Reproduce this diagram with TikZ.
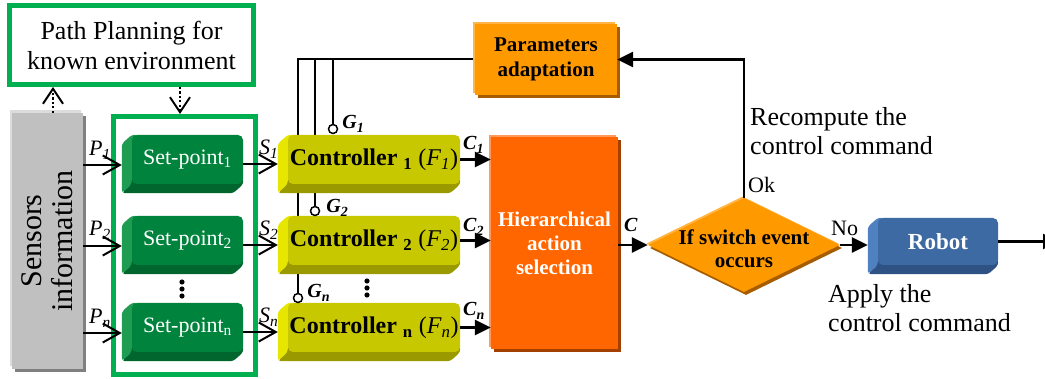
\documentclass[tikz,border=0pt]{standalone}
\usepackage{fontspec}
\setmainfont{Liberation Serif}
\usetikzlibrary{arrows.meta,calc,shapes.geometric}
\pgfdeclarelayer{back}\pgfdeclarelayer{mid}\pgfsetlayers{back,mid,main}
\definecolor{gbord}{HTML}{00B050}
\definecolor{spface}{HTML}{00843D}
\definecolor{spside}{HTML}{1E9C52}
\definecolor{spbot}{HTML}{00662E}
\definecolor{ctface}{HTML}{C8C800}
\definecolor{ctside}{HTML}{E6E600}
\definecolor{ctbot}{HTML}{9A9A00}
\definecolor{rbface}{HTML}{3E6AA3}
\definecolor{rbside}{HTML}{4F81C0}
\definecolor{rbbot}{HTML}{2F5285}
\definecolor{paface}{HTML}{FF9900}
\definecolor{palight}{HTML}{FFB547}
\definecolor{padark}{HTML}{A65C00}
\definecolor{hiface}{HTML}{FF6600}
\definecolor{hilight}{HTML}{FF9A5A}
\definecolor{hidark}{HTML}{A33F00}
\definecolor{sgray}{HTML}{C0C0C0}
\definecolor{sdark}{HTML}{808080}
\definecolor{slight}{HTML}{DCDCDC}
\newcommand\bevel[3]{%
\begin{pgfonlayer}{mid}
\fill[#2,rounded corners=3pt] (#1.north west) -- ++(-10,9) -- ($(#1.south west)+(-10,9)$) -- (#1.south west) -- ($(#1.south west)+(6,0)$) -- ($(#1.north west)+(6,0)$) -- cycle;
\fill[#3,rounded corners=3pt] (#1.south west) -- ++(-10,9) -- ($(#1.south east)+(-10,9)$) -- (#1.south east) -- ($(#1.south east)+(0,-6)$) -- ($(#1.south west)+(0,-6)$) -- cycle;
\end{pgfonlayer}}
\newcommand\ctrltext[1]{\textbf{Controller \textsubscript{#1}} (\textit{F}\textsubscript{\textit{#1}})}
\tikzset{
 face/.style={rectangle, rounded corners=5pt, inner sep=0pt},
 spnode/.style={face, fill=spface, minimum width=111pt, minimum height=49pt, text=white, font=\fontsize{22}{24}\selectfont},
 ctnode/.style={face, fill=ctface, minimum width=172pt, minimum height=49pt, font=\fontsize{24}{26}\selectfont},
 rbnode/.style={face, fill=rbface, minimum width=120pt, minimum height=47pt, text=white, font=\fontsize{23}{25}\selectfont\bfseries},
 gbox/.style={rectangle, draw=gbord, line width=5pt, inner sep=0pt},
 sensbox/.style={rectangle, fill=sgray, minimum width=71pt, minimum height=256pt, inner sep=0pt,
   preaction={fill=slight, transform canvas={shift={(-2pt,3pt)}}},
   preaction={fill=sdark, transform canvas={shift={(3pt,-3pt)}}}},
 pabox/.style={rectangle, fill=paface, minimum width=142pt, minimum height=71pt, inner sep=0pt, align=center,
   font=\fontsize{21}{25}\selectfont\bfseries,
   preaction={fill=palight, transform canvas={shift={(-2pt,2pt)}}},
   preaction={fill=padark, transform canvas={shift={(3pt,-3pt)}}}},
 hibox/.style={rectangle, fill=hiface, minimum width=127pt, minimum height=212pt, inner sep=0pt, align=center, text=white,
   font=\fontsize{21}{24}\selectfont\bfseries,
   preaction={fill=hilight, transform canvas={shift={(-2pt,2pt)}}},
   preaction={fill=hidark, transform canvas={shift={(3pt,-3pt)}}}},
 decnode/.style={diamond, aspect=2, fill=paface, minimum width=192pt, minimum height=94pt, inner sep=0pt,
   preaction={fill=palight, transform canvas={shift={(-1.5pt,1.5pt)}}},
   preaction={fill=padark, transform canvas={shift={(2pt,-3pt)}}}},
 gcirc/.style={circle, draw, fill=white, line width=1.5pt, minimum size=9pt, inner sep=0pt},
 lbl/.style={inner sep=0pt, font=\fontsize{22}{22}\selectfont},
 blbl/.style={inner sep=0pt, font=\fontsize{20}{20}\selectfont\bfseries\itshape},
 txt/.style={inner sep=0pt, align=left, font=\fontsize{26}{29}\selectfont},
 oarr/.style={line width=2.5pt, -{Straight Barb[length=17pt,width=19pt,line width=2pt]}},
 farr/.style={line width=2.5pt, -{Triangle[length=16pt,width=15pt]}},
 dotarr/.style={line width=2.5pt, dash pattern=on 2.2pt off 2.2pt, -{Straight Barb[length=15pt,width=20pt,line width=2pt]}},
 pline/.style={line width=2pt},
}
\begin{document}
\begin{tikzpicture}[x=1pt,y=-1pt]
\useasboundingbox (0,0) rectangle (1045,379);
% boxes
\node[gbox, minimum width=244pt, minimum height=79pt, align=center, font=\fontsize{26}{30}\selectfont] (plan) at (131.5,45) {Path Planning for\\known environment};
\node[sensbox] (sens) at (47.5,241) {};
\node[rotate=90, align=center, inner sep=0pt, font=\fontsize{30}{31}\selectfont] (senstxt) at (sens.center) {Sensors\\information};
\node[gbox, minimum width=142pt, minimum height=258pt] (spbox) at (184.5,245.5) {};
\node[spnode] (sp1) at (187.5,159.5) {Set-point\textsubscript{1}};
\node[spnode] (sp2) at (187.5,240.5) {Set-point\textsubscript{2}};
\node[spnode] (spn) at (187.5,327.5) {Set-point\textsubscript{n}};
\bevel{sp1}{spside}{spbot}\bevel{sp2}{spside}{spbot}\bevel{spn}{spside}{spbot}
\node[ctnode] (c1) at (374,159.5) {\ctrltext{1}};
\node[ctnode] (c2) at (374,240.5) {\ctrltext{2}};
\node[ctnode] (cn) at (374,327.5) {\ctrltext{n}};
\bevel{c1}{ctside}{ctbot}\bevel{c2}{ctside}{ctbot}\bevel{cn}{ctside}{ctbot}
\node[pabox] (params) at (546,59.5) {Parameters\\adaptation};
\node[hibox] (hier) at (554.5,243) {Hierarchical\\action\\selection};
\node[decnode] (dec) at (744,245) {};
\node[inner sep=0pt, align=center, font=\fontsize{21}{23}\selectfont\bfseries] (dectxt) at ([yshift=-4pt]dec.center) {If switch event\\occurs};
\node[rbnode] (robot) at (938,241.5) {Robot};
\bevel{robot}{rbside}{rbbot}
% G circles
\node[gcirc] (g1) at (333,129) {};
\node[gcirc] (g2) at (315,211) {};
\node[gcirc] (gn) at (298,298) {};
\begin{pgfonlayer}{back}
\draw[pline] (params.west) -| (gn.north);
\draw[pline] (params.west) -| (g2.north);
\draw[pline] (params.west) -| (g1.north);
\end{pgfonlayer}
% dotted arrows
\coordinate (d1) at ($(sens.north)+(5.5,0)$);
\draw[dotarr] (d1) -- (d1 |- plan.south);
\coordinate (d2) at ($(spbox.north)+(-4.5,0)$);
\draw[dotarr] (d2 |- plan.south) -- (d2);
% P arrows
\draw[oarr] ($(sens.east |- sp1.center)+(0,5.5)$) -- ($(sp1.west)+(-10,5.5)$);
\draw[oarr] ($(sens.east |- sp2.center)+(0,5.5)$) -- ($(sp2.west)+(-10,5.5)$);
\draw[oarr] ($(sens.east |- spn.center)+(0,5.5)$) -- ($(spn.west)+(-10,5.5)$);
% S arrows
\draw[oarr] ($(sp1.east)+(0,4.5)$) -- ($(c1.west)+(-10,4.5)$);
\draw[oarr] ($(sp2.east)+(0,4.5)$) -- ($(c2.west)+(-10,4.5)$);
\draw[oarr] ($(spn.east)+(0,4.5)$) -- ($(cn.west)+(-10,4.5)$);
% C arrows
\draw[farr] (c1.east) -- (c1.east -| hier.west);
\draw[farr] (c2.east) -- (c2.east -| hier.west);
\draw[farr] (cn.east) -- (cn.east -| hier.west);
\draw[farr] (hier.east |- dec.west) -- (dec.west);
\draw[farr] (dec.north) |- (params.east);
\draw[farr] (dec.east) -- ($(robot.west |- dec.east)+(-10,0)$);
\coordinate (out) at (1059,241.5);
\draw[farr] (robot.east) -- (out);
% dots
\foreach \yy in {282,289,296} {\fill (182,\yy) circle (2.6pt); \fill (367,\yy-1) circle (2.6pt);}
% labels
\node[lbl, anchor=base west] (lp1) at (89,156) {\textit{P\textsubscript{1}}};
\node[lbl, anchor=base west] (lp2) at (89,236) {\textit{P\textsubscript{2}}};
\node[lbl, anchor=base west] (lpn) at (89,324) {\textit{P\textsubscript{n}}};
\node[lbl, anchor=base west] (ls1) at (259,155) {\textit{S\textsubscript{1}}};
\node[lbl, anchor=base west] (ls2) at (259,236) {\textit{S\textsubscript{2}}};
\node[lbl, anchor=base west] (lsn) at (259,323) {\textit{S\textsubscript{n}}};
\node[blbl, anchor=base west] (lg1) at ($(g1.east)+(4,0)$) {G\textsubscript{1}};
\node[blbl, anchor=base west] (lg2) at ($(g2.east)+(6,2)$) {G\textsubscript{2}};
\node[blbl, anchor=base west] (lgn) at ($(gn.east)+(4,0)$) {G\textsubscript{n}};
\node[blbl, anchor=base west] (lc1) at (463,150) {C\textsubscript{1}};
\node[blbl, anchor=base west] (lc2) at (463,232) {C\textsubscript{2}};
\node[blbl, anchor=base west] (lcn) at (463,316) {C\textsubscript{n}};
\node[blbl, anchor=base west] (lc) at (624,232) {C};
\node[lbl, anchor=base west] (lok) at (748,193) {Ok};
\node[lbl, anchor=base west] (lno) at (831,236) {No};
\node[txt, anchor=base west] (lrec) at (750,155) {Recompute the\\control command};
\node[txt, anchor=base west] (lapp) at (828,332) {Apply the\\control command};
\end{tikzpicture}
\end{document}
